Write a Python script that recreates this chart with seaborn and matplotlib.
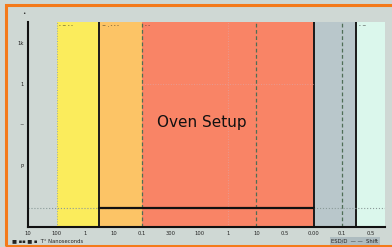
import numpy as np
import matplotlib.pyplot as plt
import seaborn as sns
from matplotlib.patches import Rectangle

# band edges along the x axis (axis runs 0..12.5)
band_starts = [1.0, 2.5, 4.0, 10.0, 11.5]
band_ends = [2.5, 4.0, 10.0, 11.5, 12.5]
band_colors = ["#fbec5c", "#fcc466", "#f98466", "#b9c7cb", "#dbf7ec"]
band_tags = ["- ~ - -", "~ . - - -", "- -", "", "- ~"]

solid_lines = [2.5, 10.0, 11.5]
dashed_lines = [4.0, 8.0, 11.0]
dotted_lines = [1.0, 7.0]

x_ticks = list(range(13))
x_labels = ["10", "100", "1", "10", "0.1", "300", "100", "1", "10", "0.5", "0.00", "0.1", "0.5"]
y_ticks = [3, 5, 7, 9]
y_labels = ["P", "~", "1", "1k"]

floor_x = [2.5, 10.0]
floor_y = [0.93, 0.93]
floor_level = 0.93
grid_level = 7.0

sns.set_style("white")
plt.rcParams["font.family"] = ["DejaVu Sans"]

bg = "#cfd8d4"
fig = plt.figure(figsize=(3.92, 2.47), dpi=100, facecolor=bg)
fig.patches.append(Rectangle((6 / 392, 1 / 247), 1.2, 241 / 247, transform=fig.transFigure,
                             fill=False, edgecolor="#f47a1a", linewidth=2.2))

ax = fig.add_axes([28 / 392, 20 / 247, 357 / 392, 205 / 247])
ax.set_facecolor(bg)

for s, e, c in zip(band_starts, band_ends, band_colors):
    ax.axvspan(s, e, ymin=0, ymax=1, color=c, lw=0)
for s, e, t in zip(band_starts, band_ends, band_tags):
    ax.text(s + 0.1, 9.85, t, fontsize=3.5, va="center", ha="left", color="#222222")

for x in solid_lines:
    ax.axvline(x, color="#1a1a1a", lw=1.4)
for x in dashed_lines:
    ax.axvline(x, color="#4f6e56", lw=0.9, ls=(0, (3, 2)))
for x in dotted_lines:
    ax.axvline(x, color="#9aa6a8" if x < 2 else "#e89a90", lw=0.7, ls=":")

ax.axhline(grid_level, xmin=4.0 / 12.5, xmax=10.0 / 12.5, color="#e89a90", lw=0.7, ls=":")
ax.axhline(floor_level, color="#8a9a98", lw=0.8, ls=":")
sns.lineplot(x=floor_x, y=floor_y, ax=ax, color="#111111", lw=1.6)

ax.text(6.1, 5.1, "Oven Setup", fontsize=11, ha="center", va="center", color="#111111")

ax.set_xlim(0, 12.5)
ax.set_ylim(0, 10)
ax.set_xticks(x_ticks)
ax.set_xticklabels(x_labels, fontsize=3.8, color="#222222")
ax.set_yticks(y_ticks)
ax.set_yticklabels(y_labels, fontsize=3.8, color="#222222")
ax.tick_params(length=0, pad=3)
for side in ["top", "right"]:
    ax.spines[side].set_visible(False)
for side in ["left", "bottom"]:
    ax.spines[side].set_color("#111111")
    ax.spines[side].set_linewidth(1.5)

fig.text(24 / 392, 1 - 14 / 247, "•", fontsize=4, ha="center", va="center")
fig.text(12 / 392, 1 - 241 / 247, "■ ▪▪ ■ ▪  T° Nanoseconds", fontsize=3.8, ha="left",
         va="center", color="#222222")
fig.text(355 / 392, 1 - 241 / 247, "ESD/D  — —  Shift", fontsize=3.8, ha="center",
         va="center", color="#222222",
         bbox=dict(boxstyle="square,pad=0.2", fc="#aebcc0", ec="none"))

fig.savefig("out.png", dpi=100, facecolor=bg)
